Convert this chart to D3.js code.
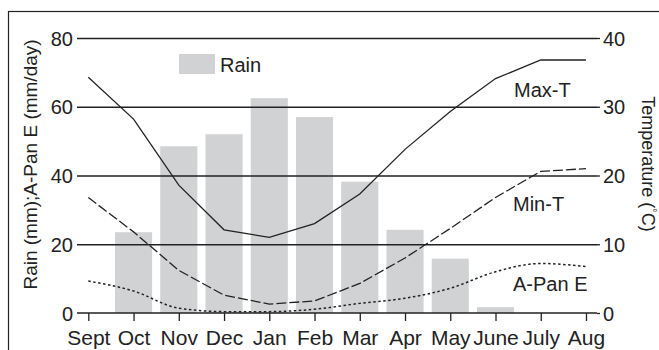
<!DOCTYPE html>
<html>
<head>
<meta charset="utf-8">
<script src="https://cdn.jsdelivr.net/npm/d3@7"></script>
<style>
  html, body { margin: 0; padding: 0; background: #fff; }
  svg { display: block; font-family: "Liberation Sans", Arial, Helvetica, sans-serif; }
</style>
</head>
<body>
<svg id="chart" width="659" height="350"></svg>
<script>
// Monthly climate: rainfall bars, pan evaporation and temperatures
const months = ["Sept", "Oct", "Nov", "Dec", "Jan", "Feb", "Mar", "Apr", "May", "June", "July", "Aug"];
const rain = [0, 23.5, 48.5, 52, 62.5, 57, 38.2, 24.2, 15.8, 1.7, 0, 0];        // mm
const panE = [9.3, 6.4, 1.4, 0.4, 0.4, 1.1, 2.8, 4.3, 7.2, 12.0, 14.4, 13.5];   // mm/day
const maxT = [34.3, 28.2, 18.6, 12.1, 11.0, 13.0, 17.3, 23.8, 29.3, 34.1, 36.8, 36.8]; // °C
const minT = [16.8, 11.8, 6.2, 2.6, 1.3, 1.75, 4.3, 8.0, 12.3, 16.8, 20.6, 21.0];   // °C
const leftTicks = [0, 20, 40, 60, 80];
const rightTicks = [0, 10, 20, 30, 40];

const svg = d3.select("#chart");
const plot = { left: 77, right: 597, top: 38, bottom: 313 };
const tickFont = 20;
const ink = "#222";

const x = d3.scalePoint().domain(months).range([88.3, 586]);
const yL = d3.scaleLinear().domain([0, 80]).range([plot.bottom, plot.top]);
const yR = d3.scaleLinear().domain([0, 40]).range([plot.bottom, plot.top]);
const barW = x.step() * 0.82;

// outer frame
svg.append("rect")
  .attr("x", 8.5).attr("y", 11.5).attr("width", 700).attr("height", 400)
  .attr("fill", "none").attr("stroke", ink).attr("stroke-width", 1.2);

// rain bars
svg.append("g").selectAll("rect")
  .data(months.map((m, i) => ({ m, v: rain[i] })).filter(d => d.v > 0))
  .join("rect")
  .attr("x", d => x(d.m) - barW / 2)
  .attr("width", barW)
  .attr("y", d => yL(d.v))
  .attr("height", d => yL(0) - yL(d.v))
  .attr("fill", "#d1d2d4");

// horizontal grid lines drawn over the bars
svg.append("g")
  .attr("transform", `translate(${plot.left},0)`)
  .call(d3.axisLeft(yL).tickValues(leftTicks.filter(t => t > 0))
    .tickSize(-(plot.right - plot.left)).tickFormat(""))
  .call(g => g.select(".domain").remove())
  .call(g => g.selectAll("line").attr("stroke", ink).attr("stroke-width", 1.3));

// left axis labels
svg.append("g")
  .attr("transform", `translate(${plot.left - 4},0)`)
  .call(d3.axisLeft(yL).tickValues(leftTicks).tickSize(0).tickPadding(0))
  .call(g => g.select(".domain").remove())
  .call(g => g.selectAll("text").attr("font-size", tickFont).attr("fill", ink)
    .attr("font-family", "Liberation Sans, Arial, sans-serif").attr("dy", "0.36em"));

// right axis: short ticks + labels
svg.append("g")
  .attr("transform", `translate(${plot.right},0)`)
  .call(d3.axisRight(yR).tickValues(rightTicks).tickSize(3).tickPadding(3))
  .call(g => g.select(".domain").remove())
  .call(g => g.selectAll("line").attr("stroke", ink).attr("stroke-width", 1.3))
  .call(g => g.selectAll("text").attr("font-size", tickFont).attr("fill", ink)
    .attr("font-family", "Liberation Sans, Arial, sans-serif").attr("dy", "0.36em"));

// bottom axis along zero
svg.append("g")
  .attr("transform", `translate(0,${plot.bottom})`)
  .call(d3.axisBottom(x).tickSize(8).tickPadding(9))
  .call(g => g.select(".domain").attr("d", `M${plot.left},0H${plot.right}`)
    .attr("stroke", ink).attr("stroke-width", 1.4))
  .call(g => g.selectAll("line").attr("stroke", ink).attr("stroke-width", 1.3))
  .call(g => g.selectAll("text").attr("font-size", 21).attr("fill", ink)
    .attr("font-family", "Liberation Sans, Arial, sans-serif"));

// series lines
const lineL = d3.line().x((d, i) => x(months[i])).y(d => yL(d));
const lineR = d3.line().x((d, i) => x(months[i])).y(d => yR(d));

svg.append("path").datum(panE)
  .attr("d", lineL.curve(d3.curveMonotoneX))
  .attr("fill", "none").attr("stroke", ink).attr("stroke-width", 1.5)
  .attr("stroke-dasharray", "2.5,2.5");

svg.append("path").datum(minT)
  .attr("d", lineR.curve(d3.curveLinear))
  .attr("fill", "none").attr("stroke", ink).attr("stroke-width", 1.3)
  .attr("stroke-dasharray", "10,3");

svg.append("path").datum(maxT)
  .attr("d", lineR.curve(d3.curveLinear))
  .attr("fill", "none").attr("stroke", ink).attr("stroke-width", 1.3);

// series labels
const labels = [
  { t: "Max-T", x: 514, y: 97 },
  { t: "Min-T", x: 513, y: 211 },
  { t: "A-Pan E", x: 513, y: 291 }
];
svg.append("g").selectAll("text").data(labels).join("text")
  .attr("x", d => d.x).attr("y", d => d.y)
  .attr("font-size", 20).attr("fill", ink).text(d => d.t);

// legend
svg.append("rect").attr("x", 179).attr("y", 54).attr("width", 36).attr("height", 20).attr("fill", "#d1d2d4");
svg.append("text").attr("x", 220).attr("y", 72).attr("font-size", 20).attr("fill", ink).text("Rain");

// axis titles
svg.append("text")
  .attr("transform", "translate(37,164.5) rotate(-90)")
  .attr("text-anchor", "middle").attr("font-size", 19).attr("fill", ink)
  .text("Rain (mm);A-Pan E (mm/day)");

const rt = svg.append("text")
  .attr("transform", "translate(642,164) rotate(90)")
  .attr("text-anchor", "middle").attr("font-size", 18).attr("fill", ink);
rt.append("tspan").text("Temperature (");
rt.append("tspan").attr("font-size", 11).attr("dy", -7).text("°");
rt.append("tspan").attr("dy", 7).text("C)");
</script>
</body>
</html>
